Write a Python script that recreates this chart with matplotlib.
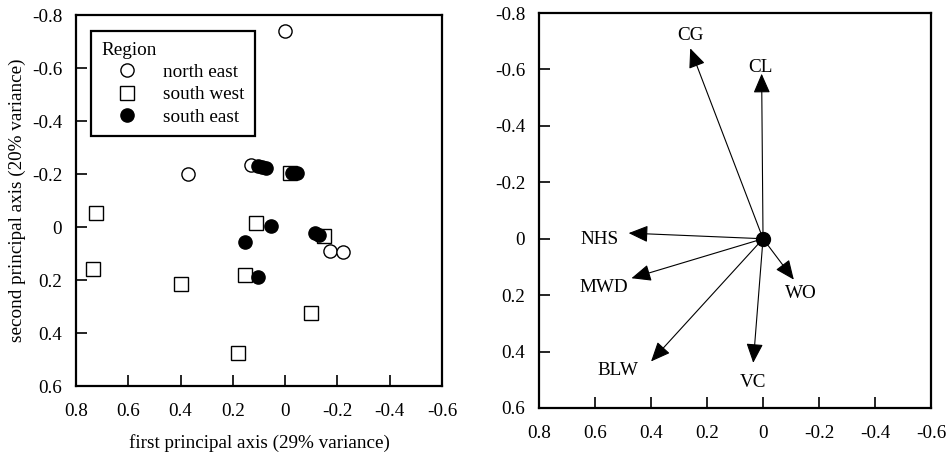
import matplotlib
matplotlib.use('Agg')
import matplotlib.pyplot as plt

plt.rcParams['font.family'] = ['Liberation Serif', 'DejaVu Serif']
plt.rcParams['axes.unicode_minus'] = False

# left panel: site scores on the first two principal axes
ne_x = [0.00, 0.37, 0.13, -0.17, -0.22]
ne_y = [-0.74, -0.20, -0.235, 0.09, 0.095]

sw_x = [0.725, 0.735, 0.40, 0.11, 0.155, -0.10, 0.18, -0.02, -0.15]
sw_y = [-0.055, 0.16, 0.215, -0.015, 0.18, 0.325, 0.475, -0.205, 0.032]

se_x = [0.105, 0.09, 0.075, -0.025, -0.045, 0.055, 0.155, 0.105, -0.115, -0.13]
se_y = [-0.23, -0.227, -0.223, -0.205, -0.203, -0.005, 0.057, 0.19, 0.023, 0.03]

# right panel: variable loadings
var_names = ['CG', 'CL', 'NHS', 'MWD', 'BLW', 'VC', 'WO']
var_x = [0.26, 0.005, 0.48, 0.47, 0.40, 0.035, -0.11]
var_y = [-0.675, -0.585, -0.02, 0.14, 0.435, 0.44, 0.145]
lab_x = [0.26, 0.01, 0.585, 0.57, 0.52, 0.035, -0.135]
lab_y = [-0.722, -0.607, 0.001, 0.173, 0.468, 0.508, 0.193]

ticks = [0.8, 0.6, 0.4, 0.2, 0, -0.2, -0.4, -0.6]
yticks = [-0.8, -0.6, -0.4, -0.2, 0, 0.2, 0.4, 0.6]
tick_labels = ['0.8', '0.6', '0.4', '0.2', '0', '-0.2', '-0.4', '-0.6']
ytick_labels = ['-0.8', '-0.6', '-0.4', '-0.2', '0', '0.2', '0.4', '0.6']

FS = 13.8

fig = plt.figure(figsize=(9.48, 4.55), dpi=100)
ax1 = fig.add_axes([0.0802, 0.1516, 0.386, 0.815])
ax2 = fig.add_axes([0.5686, 0.1033, 0.4135, 0.868])


def style(ax, xpad):
    ax.set_xlim(0.8, -0.6)
    ax.set_ylim(0.6, -0.8)
    ax.set_xticks(ticks)
    ax.set_xticklabels(tick_labels)
    ax.set_yticks(yticks)
    ax.set_yticklabels(ytick_labels)
    ax.tick_params(direction='in', length=8, width=1.2, labelsize=FS,
                   top=False, right=False)
    ax.tick_params(axis='x', pad=xpad)
    ax.tick_params(axis='y', pad=10)
    for s in ax.spines.values():
        s.set_linewidth(1.6)


style(ax1, 12.5)
ax1.plot(sw_x, sw_y, 's', ms=10, mfc='white', mec='black', mew=1.0,
         ls='none', label='south west')
ax1.plot(ne_x, ne_y, 'o', ms=9.5, mfc='white', mec='black', mew=1.0,
         ls='none', label='north east')
ax1.plot(se_x, se_y, 'o', ms=9.5, mfc='black', mec='black',
         ls='none', label='south east')

h, l = ax1.get_legend_handles_labels()
order = [1, 0, 2]
leg = ax1.legend([h[i] for i in order], [l[i] for i in order],
                 title='Region', loc='upper left',
                 bbox_to_anchor=(0.041, 0.957), borderaxespad=0,
                 fontsize=FS, title_fontsize=FS, fancybox=False,
                 edgecolor='black', framealpha=1, borderpad=0.56,
                 handletextpad=0.56, labelspacing=0.25, handlelength=2.64)
leg.get_frame().set_linewidth(1.6)
leg._legend_box.align = 'left'

ax1.set_xlabel('first principal axis (29% variance)', fontsize=FS, labelpad=9.5)
ax1.set_ylabel('second principal axis (20% variance)', fontsize=FS, labelpad=4)

style(ax2, 12)
for name, x, y, lx, ly in zip(var_names, var_x, var_y, lab_x, lab_y):
    ax2.annotate('', xy=(x, y), xytext=(0, 0),
                 arrowprops=dict(arrowstyle='-|>,head_length=0.6,head_width=0.26',
                                 color='black', lw=0.8, mutation_scale=20,
                                 shrinkA=0, shrinkB=0))
    ax2.text(lx, ly, name, fontsize=FS, ha='center', va='center')
ax2.plot([0], [0], 'o', ms=10, color='black')

fig.savefig('out.png', dpi=100, facecolor='white')
